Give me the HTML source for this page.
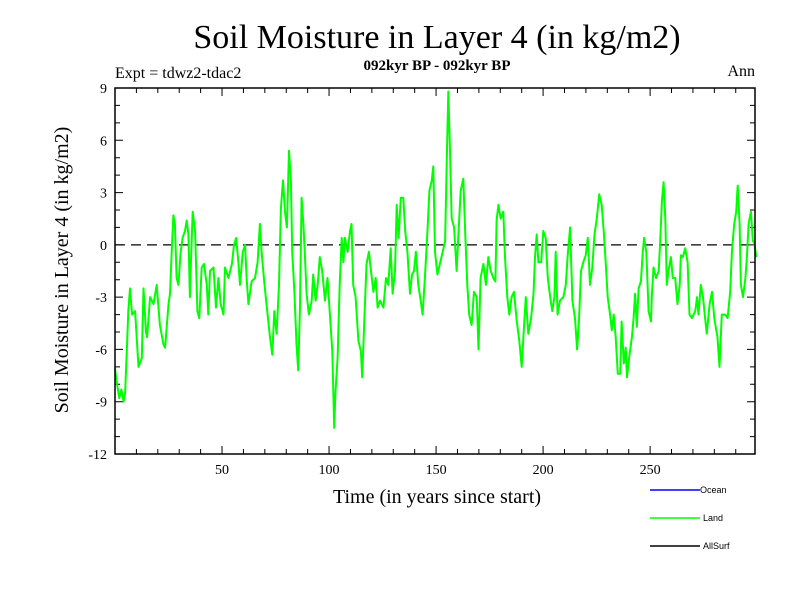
<!DOCTYPE html>
<html><head><meta charset="utf-8"><style>
body{margin:0;background:#fff}
svg{display:block;font-family:"Liberation Serif",serif}
</style></head><body>
<svg id="chart" width="800" height="600" viewBox="0 0 800 600">
<rect width="800" height="600" fill="#fff"/>
<text x="437" y="48" font-size="34" text-anchor="middle">Soil Moisture in Layer 4 (in kg/m2)</text>
<text x="115" y="78" font-size="16">Expt = tdwz2-tdac2</text>
<text x="437" y="70" font-size="15" font-weight="bold" text-anchor="middle">092kyr BP - 092kyr BP</text>
<text x="755" y="76" font-size="16" text-anchor="end">Ann</text>
<text transform="translate(68,270) rotate(-90)" font-size="20" text-anchor="middle">Soil Moisture in Layer 4 (in kg/m2)</text>
<text x="437" y="503" font-size="20" text-anchor="middle">Time (in years since start)</text>
<g id="axes"></g>
<g id="series"></g>
<rect x="115" y="88" width="640" height="366" fill="none" stroke="#000" stroke-width="1.5"/>
<g font-family="Liberation Sans, sans-serif" font-size="9">
<g><line x1="650" y1="490" x2="700" y2="490" stroke="#0000ff" stroke-width="1.5"/><text x="700" y="493">Ocean</text></g>
<g><line x1="650" y1="518" x2="700" y2="518" stroke="#00ff00" stroke-width="1.5"/><text x="703" y="521">Land</text></g>
<g><line x1="650" y1="546" x2="700" y2="546" stroke="#000" stroke-width="1.5"/><text x="703" y="549">AllSurf</text></g>
</g>
</svg>
<script>
const years=[0,1,2,3,4,4.7,5.5,6.2,7,8,9.4,11,12.5,13.3,14.5,15,16.4,18,19.5,21,22.6,23.4,25,25.7,26.5,27.3,28,28.8,29.6,30.7,31.6,32.7,33.5,34.3,35,35.5,36.3,37.4,38.5,39.4,40.5,41.6,42.9,43.6,44.4,46,47.2,48.3,49.4,50.7,51.4,53,54.6,55.6,56.6,57.7,58.4,59.7,60.8,61.5,62.3,63.8,65.4,66.6,67.7,68.5,69.7,71.3,72.4,73.5,74.4,75.5,76.6,77.5,78.5,79.4,80.3,81.3,82.2,82.8,83.8,84.8,85.6,86.4,87.2,88,88.7,89.5,90.6,91.9,92.6,93.7,94.7,95.7,96.8,98.1,99.3,100.4,101.5,102.4,103,104,105,105.9,106.7,107.4,108.7,109.8,110.5,111.3,112.4,113.7,114.9,115.5,116.5,117.5,118.6,119.6,120.7,121.8,122.7,123.8,125.4,126.6,127.7,128.8,129.7,130.8,131.6,132.5,133.5,134.7,135.6,136.6,137.8,138.8,139.7,140.6,141.7,142.8,143.7,144.8,145.9,146.9,148,148.7,149.5,150.6,151.8,153.1,154.2,154.9,155.7,156.5,157.3,158.4,159.6,160.6,161.5,162.7,163.7,164.6,165.5,166.6,167.7,169,169.8,170.8,172.1,173.3,174.4,175.5,176.8,177.7,178.3,179.1,180.2,181.4,182.2,183.3,184.2,185.3,186.4,187.7,188.9,190,190.8,191.9,193.1,194.4,195.5,196.2,197,197.8,199.1,200.1,201.2,202.2,203.3,204.3,205.3,205.9,206.8,207.9,209.5,210.6,211.5,212.6,213.7,214.9,215.9,216.8,217.7,218.8,219.9,220.9,221.9,223,224,225.1,226.2,227.4,228.3,229.3,230.2,231.3,232.1,233,233.9,234.9,236,236.7,237.7,238.6,239.2,240.2,241.5,242.3,243,243.8,244.6,245.7,246.6,247.2,248.2,249.3,250.4,250.8,251.6,252.8,254,254.7,255.5,256.3,257.1,257.8,258.6,259.7,260.6,261.7,262.8,263.8,264.4,265.3,266.4,267.5,268.4,269.5,271.1,271.9,272.6,273.7,274.7,275.7,276.5,277.8,278.9,280,280.9,281.5,282.4,283.5,285.1,286.2,287.4,288.2,289.3,290.2,290.9,291.8,292.4,293.4,294.5,295.2,296,297.1,298,298.6,299.6];
const values=[-7.1,-8,-8.8,-8.3,-9,-8.5,-6.1,-3.8,-2.5,-4,-3.8,-7,-6.5,-2.5,-5,-5.3,-3,-3.4,-2.3,-4.6,-5.7,-5.9,-3.4,-2.8,-0.4,1.7,1.2,-1.9,-2.3,-0.4,0.4,0.8,1.4,0.6,-3,-0.9,1.9,0.8,-3.8,-4.2,-1.3,-1.1,-2.3,-4,-1.5,-1.3,-3.6,-1.9,-3.4,-4,-1.3,-1.9,-1.1,0,0.4,-1.1,-2.3,-0.4,0,-1.9,-3.4,-2.1,-1.9,-1,1.2,-0.4,-2.1,-4,-5.3,-6.3,-3.8,-5.1,-2.3,2.1,3.7,1.9,1,5.4,3.7,-0.4,-2.7,-5.7,-7.2,-3.8,2.7,1.2,-0.6,-2.8,-4,-3.2,-1.7,-3.2,-2.3,-0.7,-1.5,-3.2,-1.9,-4,-6.1,-10.5,-8.4,-6.5,-2.3,0.4,-1,0.4,-0.4,0.8,1.2,-2.3,-3,-5.5,-6.1,-7.6,-4.2,-1.1,-0.4,-1.5,-2.7,-1.9,-3.6,-3.2,-3.6,-1.9,-2.3,-0.2,-2.8,-1.5,2.3,0.4,2.7,2.7,0.8,-0.4,-2.8,-1.7,-1.5,-0.4,-2.3,-3.2,-4,-1.9,0.6,3.1,3.7,4.5,-0.4,-1.7,-1.1,-0.4,0.2,4.4,8.8,5.4,1.5,1,-1.5,1,3.1,3.8,0.4,-2.3,-4,-4.6,-2.7,-3,-6,-1.9,-1.1,-2.3,-0.7,-1.5,-1.9,-2.1,1.4,2.3,1.5,1.9,-0.7,-3,-4,-3,-2.7,-4.4,-5.5,-7,-5.3,-3,-5.1,-4.2,-2.8,-0.7,0.6,-1,-1,0.8,0.4,-1.9,-3,-3.8,-3,-0.4,-4,-3.2,-3,-2.3,-0.6,1,-3.2,-4.2,-6,-4.2,-1.5,-1,-0.6,0.4,-2.3,-1.3,0.6,1.5,2.9,2.3,0.8,-1.1,-3,-4,-4.9,-4,-5.3,-7.4,-7.4,-4.4,-6.8,-5.9,-7.6,-6.5,-5.3,-4.2,-2.8,-4.7,-2.5,-2.1,-0.4,0.4,-0.4,-3.8,-4.4,-3,-1.3,-1.9,-1.5,0.2,2.5,3.6,1.5,-2.3,-1.5,-0.7,-1.9,-1.9,-3.4,-2.3,-0.6,-0.7,-0.2,-1,-4,-4.2,-3.8,-3,-4,-2.3,-3,-4.2,-5.1,-3.4,-2.7,-4.2,-4.9,-5.3,-7,-4,-4,-4.2,-2.7,-0.4,1.2,1.9,3.4,1.2,-2.3,-3,-1.9,-0.7,1.2,1.9,0.2,0.2,-0.7];
const yTicks=[-12,-9,-6,-3,0,3,6,9];
const xTicks=[50,100,150,200,250];
const X0=115,X1=755,Y0=88,Y1=454,XMIN=0,XMAX=299,YMIN=-12,YMAX=9;
function xs(v){return X0+(v-XMIN)/(XMAX-XMIN)*(X1-X0);}
function ys(v){return Y1-(v-YMIN)/(YMAX-YMIN)*(Y1-Y0);}
const NS="http://www.w3.org/2000/svg";
const axes=document.getElementById('axes');
function mk(tag,attrs,parent){const e=document.createElementNS(NS,tag);for(const k in attrs)e.setAttribute(k,attrs[k]);parent.appendChild(e);return e;}
for(let v=YMIN;v<=YMAX;v++){
  const major=(v%3===0);const L=major?8:5;const y=ys(v);
  const t=mk('path',{d:`M${X0} ${y}h${L}M${X1} ${y}h${-L}`,stroke:'#000','stroke-width':1},axes);
  
  
}
yTicks.forEach(v=>{
  const t=mk('text',{x:107,y:ys(v)+5,'font-size':14,'text-anchor':'end'},axes);
  t.textContent=v;
  
  
});
for(let v=10;v<XMAX;v+=10){
  const major=(v%50===0);const L=major?8:5;const x=xs(v);
  const t=mk('path',{d:`M${x} ${Y1}v${-L}M${x} ${Y0}v${L}`,stroke:'#000','stroke-width':1},axes);
  
  
}
xTicks.forEach(v=>{
  const t=mk('text',{x:xs(v),y:474,'font-size':14,'text-anchor':'middle'},axes);
  t.textContent=v;
  
  
});
const zero=mk('line',{x1:X0,x2:X1,y1:ys(0),y2:ys(0),stroke:'#000','stroke-width':1.2,'stroke-dasharray':'10,6'},axes);


const d=years.map((yr,i)=>(i?'L':'M')+xs(yr).toFixed(1)+' '+ys(values[i]).toFixed(1)).join('');
const line=mk('path',{d:d,fill:'none',stroke:'#00ff00','stroke-width':2,'stroke-linejoin':'round'},document.getElementById('series'));


</script>
</body></html>
